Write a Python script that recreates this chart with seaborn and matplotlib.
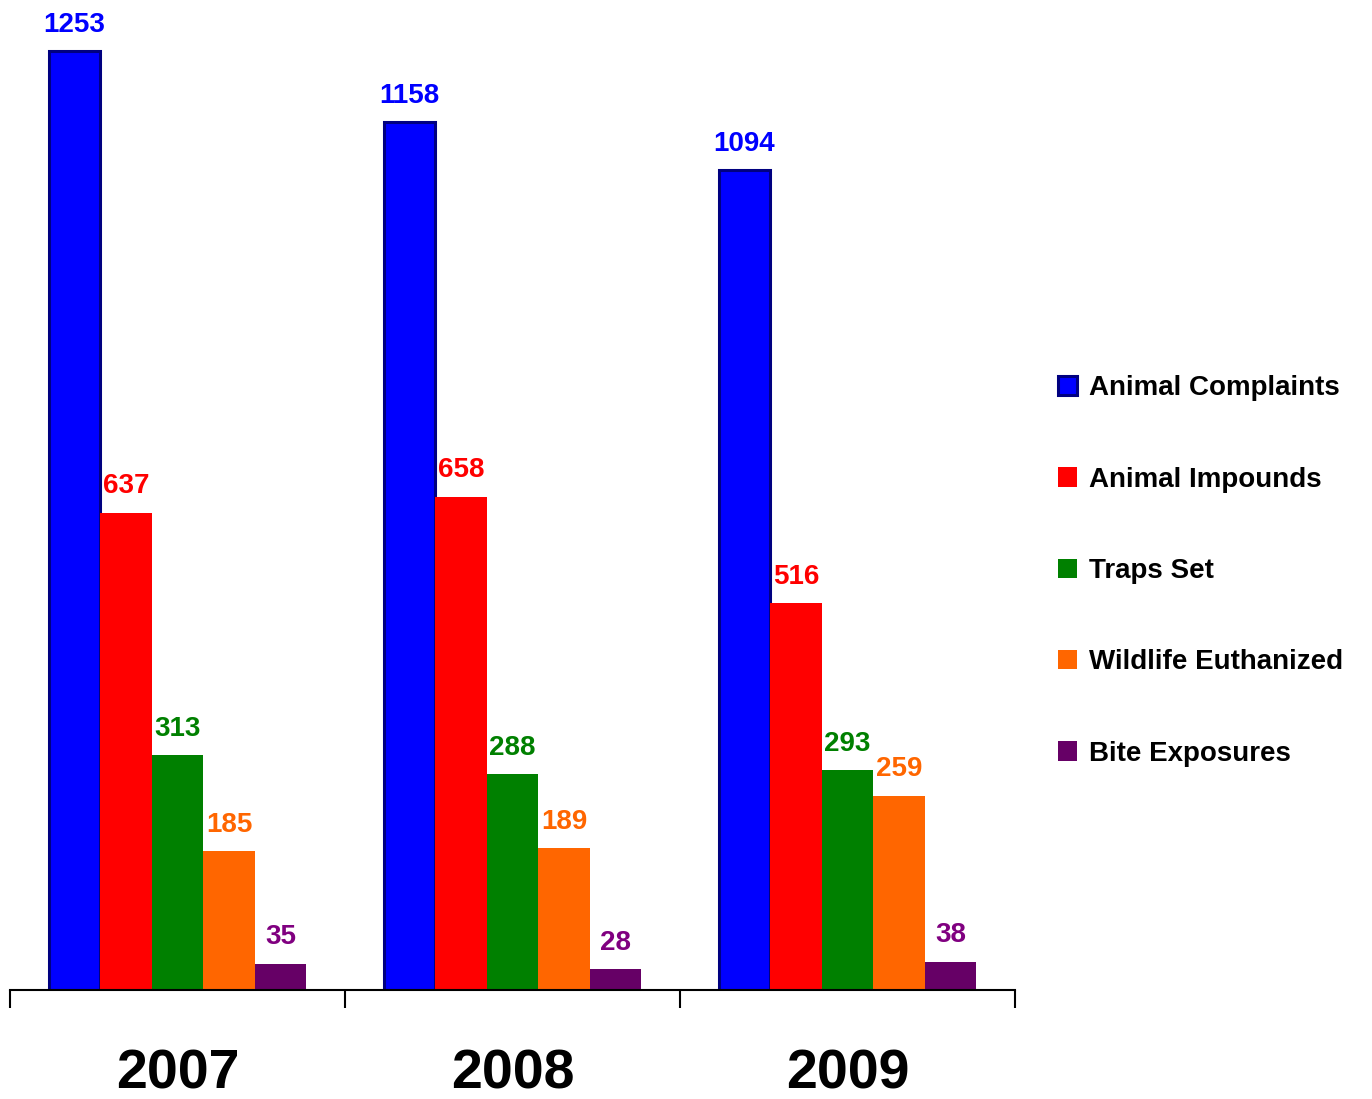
import matplotlib
matplotlib.use('Agg')
import matplotlib.pyplot as plt
import seaborn as sns
import pandas as pd

years = ['2007', '2008', '2009']
categories = ['Animal Complaints', 'Animal Impounds', 'Traps Set',
              'Wildlife Euthanized', 'Bite Exposures']
animal_complaints = [1253, 1158, 1094]
animal_impounds = [637, 658, 516]
traps_set = [313, 288, 293]
wildlife_euthanized = [185, 189, 259]
bite_exposures = [35, 28, 38]
bar_colors = ['#0000FF', '#FF0000', '#008000', '#FF6600', '#660066']
label_colors = ['#0000FF', '#FF0000', '#008000', '#FF6600', '#800080']

sns.set_theme(style='white')
plt.rcParams['font.family'] = ['Liberation Sans', 'DejaVu Sans']
plt.rcParams['text.color'] = 'black'

series = [animal_complaints, animal_impounds, traps_set,
          wildlife_euthanized, bite_exposures]
rows = []
for cat, vals in zip(categories, series):
    for yr, v in zip(years, vals):
        rows.append({'Year': yr, 'Category': cat, 'Count': v})
df = pd.DataFrame(rows)

fig = plt.figure(figsize=(13.72, 10.99), dpi=100)
ax = fig.add_axes([10 / 1372, 109 / 1099, 1005 / 1372, 990 / 1099])
sns.barplot(data=df, x='Year', y='Count', hue='Category', order=years,
            hue_order=categories, palette=bar_colors, saturation=1,
            width=0.77, linewidth=0, errorbar=None, legend=False, ax=ax)

# navy outline on blue bars
for p in ax.containers[0].patches:
    p.set_edgecolor('#000080')
    p.set_linewidth(2.2)

for cont, col in zip(ax.containers, label_colors):
    for bar in cont.patches:
        h = bar.get_height()
        ax.annotate(f'{int(round(h))}',
                    (bar.get_x() + bar.get_width() / 2, h),
                    xytext=(0, 14), textcoords='offset points',
                    ha='center', va='baseline', fontsize=20,
                    fontweight='bold', color=col, annotation_clip=False)

ax.set_xlim(-0.5, 2.5)
ax.set_ylim(0, 1321)
ax.set_yticks([])
ax.set_xlabel('')
ax.set_ylabel('')
for s in ['left', 'right', 'top']:
    ax.spines[s].set_visible(False)
ax.spines['bottom'].set_color('black')
ax.spines['bottom'].set_linewidth(1.5)

ax.set_xticks([-0.5, 0.5, 1.5, 2.5], minor=True)
ax.tick_params(axis='x', which='major', length=0, pad=42, labelsize=40,
               labelcolor='black')
ax.tick_params(axis='x', which='minor', bottom=True, length=13, width=1.5,
               color='black', direction='out')
for t in ax.get_xticklabels():
    t.set_fontweight('bold')

handles = [c.patches[0] for c in ax.containers]
fig.legend(handles, categories, loc='center left',
           bbox_to_anchor=(1058 / 1372, 1 - 571 / 1099), frameon=False,
           prop=dict(weight='bold', size=20), labelcolor='black',
           handlelength=0.7, handleheight=0.7, handletextpad=0.4,
           labelspacing=2.35, borderpad=0, borderaxespad=0)

fig.savefig('out.png', dpi=100)
